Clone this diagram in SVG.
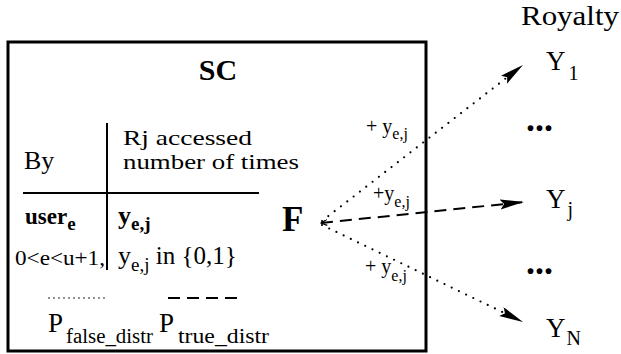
<svg xmlns="http://www.w3.org/2000/svg" width="621" height="354" viewBox="0 0 621 354" font-family="Liberation Serif, Times New Roman, Tinos, DejaVu Serif, serif">
<style>
text{fill:#000}
.b{font-weight:bold}
.dot{fill:none;stroke:#000;stroke-width:2.2;stroke-linecap:round;stroke-dasharray:0 8}
.dash{fill:none;stroke:#000;stroke-width:2;stroke-dasharray:12 7}
</style>
<defs>
<marker id="ah" markerUnits="userSpaceOnUse" markerWidth="26" markerHeight="12" refX="24" refY="5" orient="auto">
<path d="M0,0 L24,5 L0,10 L4,5 z" fill="#000"/>
</marker>
<marker id="st" markerUnits="userSpaceOnUse" markerWidth="8" markerHeight="8" refX="1" refY="3" orient="auto">
<path d="M7,0 L1,3 L7,6" fill="none" stroke="#000" stroke-width="1.2"/>
</marker>
</defs>
<g id="sc">
<rect x="8" y="42" width="418" height="309" fill="#fff" stroke="#000" stroke-width="3"/>
<text class="b" x="218" y="80" font-size="30" text-anchor="middle">SC</text>
<line x1="107" y1="123" x2="107" y2="270" stroke="#000" stroke-width="2"/>
<line x1="23" y1="193" x2="259" y2="193" stroke="#000" stroke-width="2"/>
<text x="123" y="145" font-size="22" textLength="129" lengthAdjust="spacingAndGlyphs">Rj accessed</text>
<text x="123" y="169" font-size="22" textLength="176" lengthAdjust="spacingAndGlyphs">number of times</text>
<text x="24" y="169" font-size="26">By</text>
<text class="b" x="25" y="224" font-size="23">user<tspan font-size="19" dy="6">e</tspan></text>
<text class="b" x="118" y="224" font-size="26">y<tspan font-size="19" dy="6">e,j</tspan></text>
<text x="15" y="265" font-size="21" textLength="90" lengthAdjust="spacingAndGlyphs">0&lt;e&lt;u+1,</text>
<text x="118" y="264" font-size="26">y<tspan font-size="19" dy="7">e,j</tspan><tspan dy="-7" font-size="25"> in {0,1}</tspan></text>
<line class="dot" x1="49" y1="298" x2="105" y2="298" style="stroke-dasharray:0 5;stroke-width:1.6"/>
<line class="dash" x1="168" y1="298" x2="240" y2="298"/>
<text x="48" y="332" font-size="27">P</text>
<text x="66" y="343" font-size="20" textLength="87" lengthAdjust="spacingAndGlyphs">false_distr</text>
<text x="159" y="332" font-size="27">P</text>
<text x="178" y="343" font-size="20" textLength="91" lengthAdjust="spacingAndGlyphs">true_distr</text>
</g>
<g id="f">
<text class="b" x="282" y="231" font-size="35">F</text>
</g>
<g id="royalty">
<text x="521" y="25" font-size="27" textLength="98" lengthAdjust="spacingAndGlyphs">Royalty</text>
</g>
<g id="y1"><text x="546" y="70" font-size="27">Y<tspan font-size="20" dy="10" dx="3">1</tspan></text></g>
<g id="dots1"><text class="b" x="526" y="131" font-size="36">...</text></g>
<g id="yj"><text x="546" y="208" font-size="27">Y<tspan font-size="20" dy="8" dx="2">j</tspan></text></g>
<g id="dots2"><text class="b" x="526" y="274" font-size="36">...</text></g>
<g id="yn"><text x="546" y="337" font-size="27">Y<tspan font-size="20" dy="8" dx="1">N</tspan></text></g>
<g id="connectors">
<line class="dot" x1="322" y1="221" x2="523" y2="65" marker-end="url(#ah)"/>
<line class="dash" x1="321" y1="223" x2="524" y2="202" marker-start="url(#st)" marker-end="url(#ah)"/>
<line class="dot" x1="322" y1="225" x2="523" y2="322" marker-end="url(#ah)"/>
<text x="366" y="133" font-size="20">+ y<tspan font-size="16" dy="6">e,j</tspan></text>
<text x="373" y="200" font-size="20">+y<tspan font-size="16" dy="7">e,j</tspan></text>
<text x="365" y="273" font-size="20">+ y<tspan font-size="16" dy="8">e,j</tspan></text>
</g>
</svg>
